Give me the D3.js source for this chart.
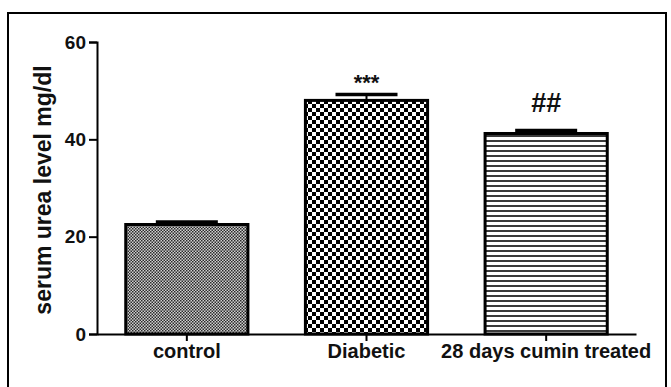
<!DOCTYPE html>
<html>
<head>
<meta charset="utf-8">
<script src="https://cdn.jsdelivr.net/npm/d3@7"></script>
<style>
  html, body { margin: 0; padding: 0; background: #fff; }
  svg { display: block; }
  text { font-family: "Liberation Sans", Arial, Helvetica, sans-serif; fill: #111; }
</style>
</head>
<body>
<svg id="chart" width="671" height="387"></svg>
<script>
// Serum urea (mg/dl) by group, mean with SEM
const categories = ["control", "Diabetic", "28 days cumin treated"];
const means = [22.5, 48, 41.2];
const sems = [0.5, 1.2, 0.6];
const marks = ["", "***", "##"];
const patternIds = ["fineCheck", "coarseCheck", "hStripes"];
const yTicks = [0, 20, 40, 60];
const yTitle = "serum urea level mg/dl";

const svg = d3.select("#chart");
const W = 671, H = 387;

// Outer frame
svg.append("rect")
  .attr("x", 8).attr("y", 13)
  .attr("width", 658).attr("height", H + 10)
  .attr("fill", "#fff").attr("stroke", "#000").attr("stroke-width", 2);

// Fill patterns
const defs = svg.append("defs");
const p1 = defs.append("pattern").attr("id", "fineCheck")
  .attr("patternUnits", "userSpaceOnUse").attr("width", 3).attr("height", 3);
p1.append("rect").attr("width", 3).attr("height", 3).attr("fill", "#d0d0d0");
p1.append("rect").attr("width", 1.5).attr("height", 1.5).attr("fill", "#2a2a2a");
p1.append("rect").attr("x", 1.5).attr("y", 1.5).attr("width", 1.5).attr("height", 1.5).attr("fill", "#2a2a2a");

const p2 = defs.append("pattern").attr("id", "coarseCheck")
  .attr("patternUnits", "userSpaceOnUse").attr("width", 8).attr("height", 8);
p2.append("rect").attr("width", 8).attr("height", 8).attr("fill", "#fff");
p2.append("rect").attr("width", 4).attr("height", 4).attr("fill", "#000");
p2.append("rect").attr("x", 4).attr("y", 4).attr("width", 4).attr("height", 4).attr("fill", "#000");

const p3 = defs.append("pattern").attr("id", "hStripes")
  .attr("patternUnits", "userSpaceOnUse").attr("width", 5).attr("height", 5);
p3.append("rect").attr("width", 5).attr("height", 5).attr("fill", "#fff");
p3.append("rect").attr("y", 0).attr("width", 5).attr("height", 2).attr("fill", "#3a3a3a");

// Scales
const x = d3.scaleBand().domain(categories).range([97, 636])
  .paddingInner(0.32).paddingOuter(0.16);
const y = d3.scaleLinear().domain([0, 60]).range([334, 42]);

const data = categories.map((c, i) => ({ c, m: means[i], e: sems[i], mark: marks[i], pat: patternIds[i] }));

// Bars
svg.append("g").selectAll("rect").data(data).join("rect")
  .attr("x", d => x(d.c))
  .attr("y", d => y(d.m))
  .attr("width", x.bandwidth())
  .attr("height", d => y(0) - y(d.m))
  .attr("fill", d => `url(#${d.pat})`)
  .attr("stroke", "#000").attr("stroke-width", 3);

// Error bars (upper only)
const eb = svg.append("g");
eb.selectAll("line.v").data(data).join("line").attr("class", "v")
  .attr("x1", d => x(d.c) + x.bandwidth() / 2).attr("x2", d => x(d.c) + x.bandwidth() / 2)
  .attr("y1", d => y(d.m)).attr("y2", d => y(d.m + d.e))
  .attr("stroke", "#000").attr("stroke-width", 2);
eb.selectAll("line.cap").data(data).join("line").attr("class", "cap")
  .attr("x1", d => x(d.c) + x.bandwidth() / 2 - 31).attr("x2", d => x(d.c) + x.bandwidth() / 2 + 31)
  .attr("y1", d => y(d.m + d.e)).attr("y2", d => y(d.m + d.e))
  .attr("stroke", "#000").attr("stroke-width", 3.5);

// Significance marks
svg.append("g").selectAll("text").data(data.filter(d => d.mark)).join("text")
  .attr("x", d => x(d.c) + x.bandwidth() / 2)
  .attr("y", d => d.mark === "***" ? y(d.m + d.e) - 5 : y(d.m + d.e) - 19)
  .attr("text-anchor", "middle")
  .attr("font-size", d => d.mark === "***" ? 22 : 27)
  .attr("font-weight", "bold")
  .attr("fill", d => d.mark === "***" ? "#333" : "#111")
  .text(d => d.mark);

// Y axis
const yAxis = svg.append("g").attr("transform", "translate(97,0)")
  .call(d3.axisLeft(y).tickValues(yTicks).tickSize(8).tickPadding(3));
yAxis.select(".domain").attr("stroke", "#000").attr("stroke-width", 2);
yAxis.selectAll(".tick line").attr("stroke", "#000").attr("stroke-width", 2);
yAxis.selectAll(".tick text").attr("font-size", 19).attr("font-weight", "bold")
  .attr("font-family", "Liberation Sans, Arial, sans-serif").attr("fill", "#111");

// X axis
const xAxis = svg.append("g").attr("transform", "translate(0,334)")
  .call(d3.axisBottom(x).tickSize(7).tickSizeOuter(0).tickPadding(3));
xAxis.select(".domain").attr("stroke", "#000").attr("stroke-width", 2);
xAxis.selectAll(".tick line").attr("stroke", "#000").attr("stroke-width", 2);
xAxis.selectAll(".tick text").attr("font-size", 20).attr("font-weight", "bold")
  .attr("font-family", "Liberation Sans, Arial, sans-serif").attr("fill", "#111");

// Y axis title
svg.append("text")
  .attr("transform", "translate(51,190) rotate(-90)")
  .attr("text-anchor", "middle")
  .attr("font-size", 23).attr("font-weight", "bold")
  .text(yTitle);
</script>
</body>
</html>
